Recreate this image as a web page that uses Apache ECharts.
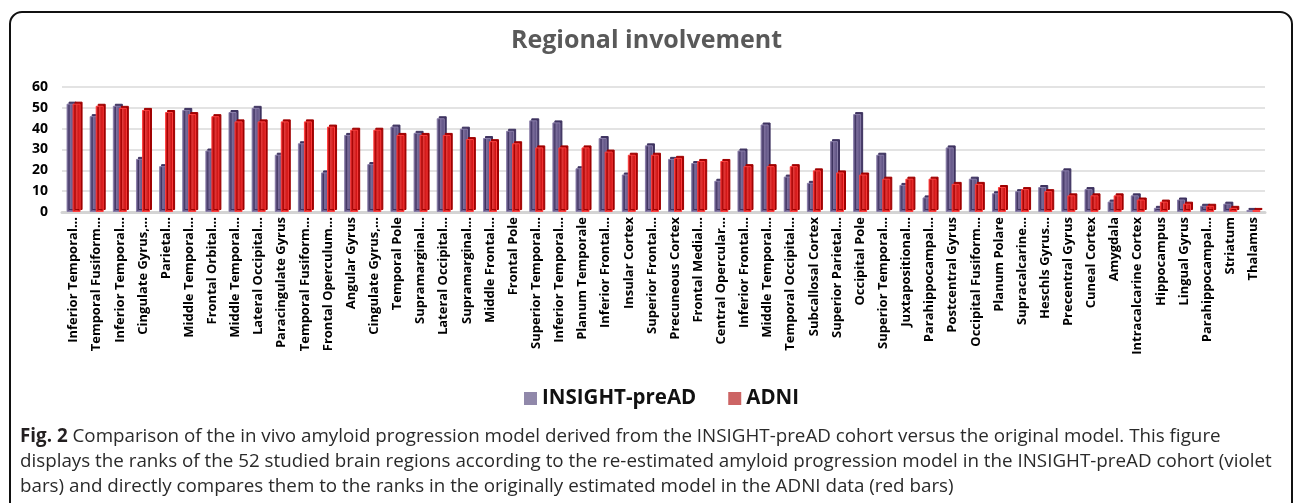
<!DOCTYPE html>
<html>
<head>
<meta charset="utf-8">
<script src="https://cdn.jsdelivr.net/npm/echarts@6/dist/echarts.min.js"></script>
<style>
html,body{margin:0;padding:0;background:#fff;}
#c{width:1293px;height:503px;}
</style>
</head>
<body>
<div id="c"></div>
<script>
var categories = [
  'Inferior Temporal...','Temporal Fusiform...','Inferior Temporal...','Cingulate Gyrus,...','Parietal...',
  'Middle Temporal...','Frontal Orbital...','Middle Temporal...','Lateral Occipital...','Paracingulate Gyrus',
  'Temporal Fusiform...','Frontal Operculum...','Angular Gyrus','Cingulate Gyrus,...','Temporal Pole',
  'Supramarginal...','Lateral Occipital...','Supramarginal...','Middle Frontal...','Frontal Pole',
  'Superior Temporal...','Inferior Temporal...','Planum Temporale','Inferior Frontal...','Insular Cortex',
  'Superior Frontal...','Precuneous Cortex','Frontal Medial...','Central Opercular...','Inferior Frontal...',
  'Middle Temporal...','Temporal Occipital...','Subcallosal Cortex','Superior Parietal...','Occipital Pole',
  'Superior Temporal...','Juxtapositional...','Parahippocampal...','Postcentral Gyrus','Occipital Fusiform...',
  'Planum Polare','Supracalcarine...','Heschls Gyrus...','Precentral Gyrus','Cuneal Cortex',
  'Amygdala','Intracalcarine Cortex','Hippocampus','Lingual Gyrus','Parahippocampal...',
  'Striatum','Thalamus'
];
var insightValues = [
  52,46,51,25.5,22, 49,29.5,48,50,27.5,
  33,19,37,23,41, 38,45,40,35.5,39,
  44,43,21,35.5,18, 32,25.5,23.5,15,29.5,
  42,17,14,34,47, 27.5,13,7,31,16,
  9,10,12,20,11, 5,8,2,6,3,
  4,1
];
var adniValues = [
  52,51,50,49,48, 47,46,43.5,43.5,43.5,
  43.5,41,39.5,39.5,37, 37,37,35,34,33,
  31,31,31,29,27.5, 27.5,26,24.5,24.5,22,
  22,22,20,19,18, 16,16,16,13.5,13.5,
  12,11,10,8,8, 8,6,5,4,3,
  2,1
];
var yTicks = [0,10,20,30,40,50,60];
var seriesNames = ['INSIGHT-preAD','ADNI'];

var chart = echarts.init(document.getElementById('c'), null, {renderer:'canvas'});

var violetGrad = new echarts.graphic.LinearGradient(0,0,1,0,[
  {offset:0,color:'#4c406c'},{offset:0.45,color:'#7c6e9c'},{offset:1,color:'#54487a'}
]);
var redGrad = new echarts.graphic.LinearGradient(0,0,1,0,[
  {offset:0,color:'#b80000'},{offset:0.45,color:'#e23a3a'},{offset:1,color:'#c40000'}
]);

var option = {
  backgroundColor:'#fff',
  animation:false,
  title:{
    text:'Regional involvement',
    left:'center',
    top:23,
    textStyle:{fontFamily:'Open Sans',fontWeight:'bold',fontSize:25,color:'#595959'}
  },
  legend:{
    top:383,
    left:519,
    itemWidth:13,
    itemHeight:13,
    itemGap:32,
    icon:'rect',
    textStyle:{fontFamily:'Open Sans',fontWeight:'bold',fontSize:20.5,color:'#111'},
    data:[
      {name:seriesNames[0],itemStyle:{color:'#9088aa',borderWidth:0,shadowBlur:0,shadowOffsetX:0,shadowOffsetY:0}},
      {name:seriesNames[1],itemStyle:{color:'#cc6464',borderWidth:0,shadowBlur:0,shadowOffsetX:0,shadowOffsetY:0}}
    ]
  },
  grid:{left:62,right:28,top:87,bottom:291,containLabel:false},
  xAxis:{
    type:'category',
    data:categories,
    axisTick:{show:false},
    axisLine:{show:true,lineStyle:{color:'#d4d4d4',width:3}},
    axisLabel:{
      rotate:90,
      interval:0,
      margin:5,
      fontFamily:'Open Sans',
      fontWeight:'bold',
      fontSize:13,
      color:'#000'
    }
  },
  yAxis:{
    type:'value',
    min:0,
    max:60,
    interval:10,
    axisLine:{show:false},
    axisTick:{show:false},
    splitLine:{lineStyle:{color:'#e3e3e3',width:2}},
    axisLabel:{
      margin:14,
      fontFamily:'Open Sans',
      fontWeight:'bold',
      fontSize:14,
      color:'#000',
      formatter:function(v){return yTicks.indexOf(v)>=0?String(v):'';}
    }
  },
  series:[
    {
      name:seriesNames[0],
      type:'bar',
      data:insightValues,
      barWidth:8,
      barGap:'-25%',
      itemStyle:{
        color:violetGrad,
        borderColor:'#8a7eaa',
        borderWidth:1,
        shadowColor:'#3e3360',
        shadowOffsetX:2,
        shadowOffsetY:-2,
        shadowBlur:0
      }
    },
    {
      name:seriesNames[1],
      type:'bar',
      data:adniValues,
      barWidth:8,
      itemStyle:{
        color:redGrad,
        borderColor:'#ff4040',
        borderWidth:1,
        shadowColor:'#a00000',
        shadowOffsetX:2,
        shadowOffsetY:-2,
        shadowBlur:0
      }
    }
  ],
  graphic:[
    {
      type:'rect',
      silent:true,
      shape:{x:10,y:12,width:1282,height:540,r:12},
      style:{fill:'none',stroke:'#111',lineWidth:2}
    },
    {
      type:'text',
      left:20,
      top:427,
      style:{
        text:'{b|Fig. 2} Comparison of the in vivo amyloid progression model derived from the INSIGHT-preAD cohort versus the original model. This figure',
        fontFamily:'Open Sans',
        fontSize:18.8,
        fill:'#2a2a2a',
        rich:{b:{fontFamily:'Open Sans',fontWeight:'bold',fontSize:18.8,fill:'#231f20'}}
      }
    },
    {
      type:'text',
      left:20,
      top:452,
      style:{
        text:'displays the ranks of the 52 studied brain regions according to the re-estimated amyloid progression model in the INSIGHT-preAD cohort (violet',
        fontFamily:'Open Sans',
        fontSize:18.8,
        fill:'#2a2a2a'
      }
    },
    {
      type:'text',
      left:20,
      top:477,
      style:{
        text:'bars) and directly compares them to the ranks in the originally estimated model in the ADNI data (red bars)',
        fontFamily:'Open Sans',
        fontSize:18.8,
        fill:'#2a2a2a'
      }
    }
  ]
};
chart.setOption(option);
</script>
</body>
</html>
